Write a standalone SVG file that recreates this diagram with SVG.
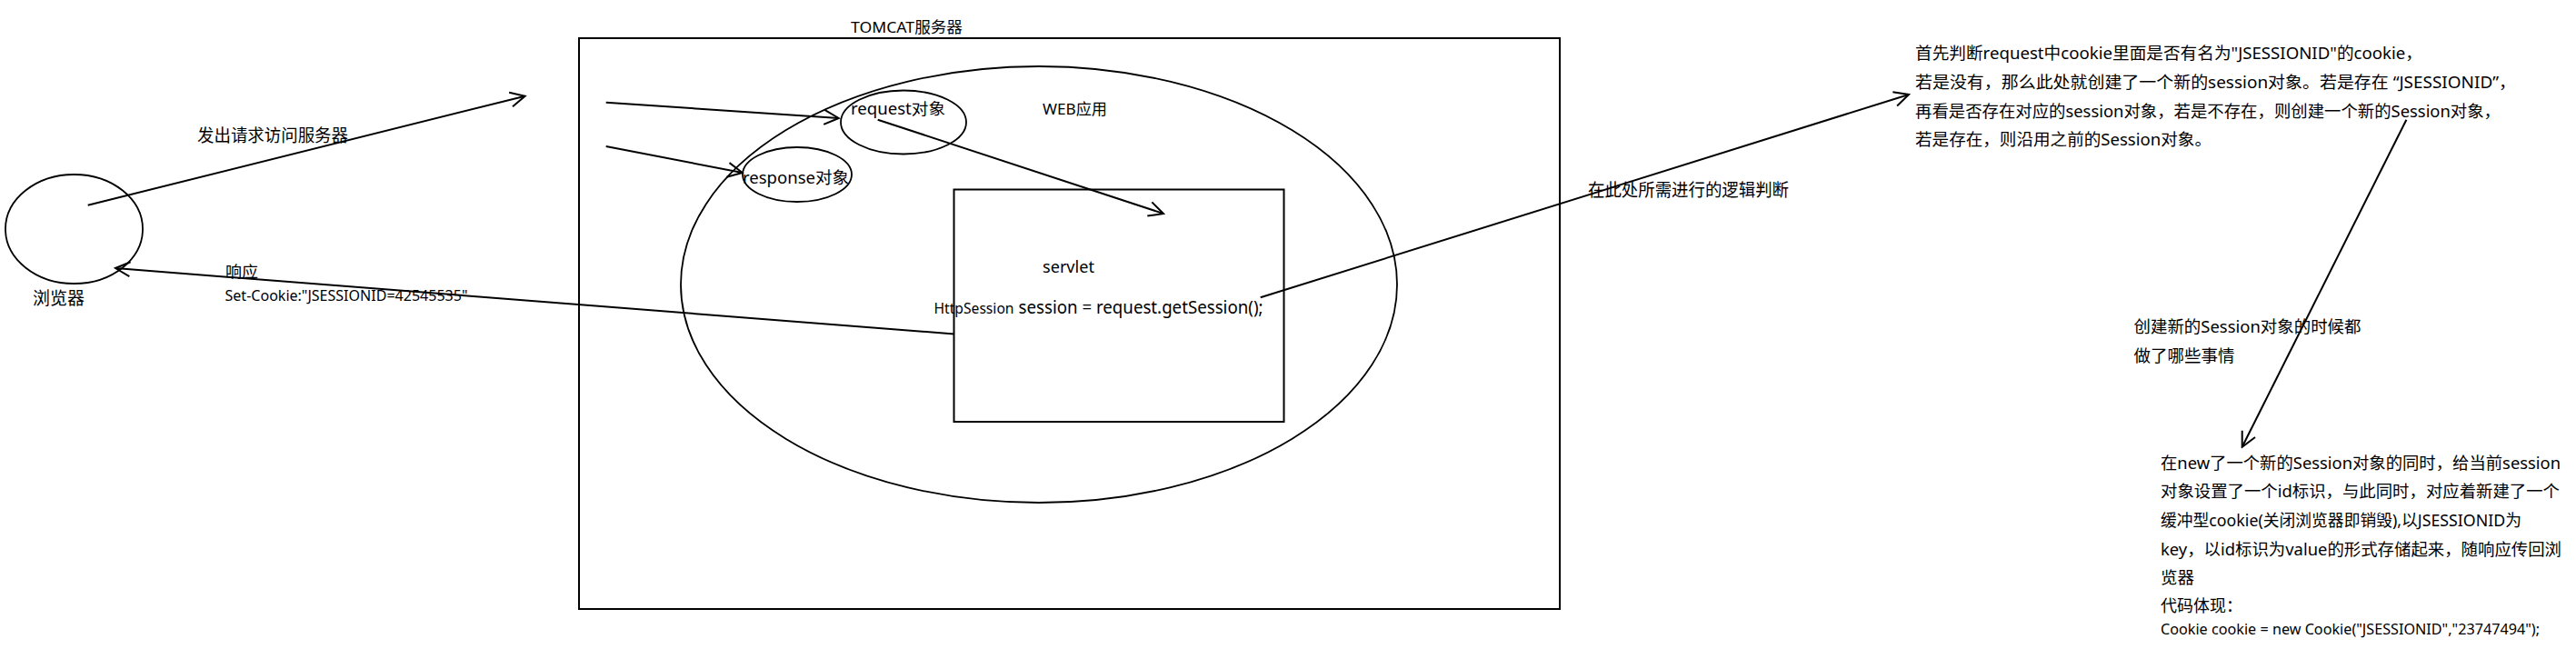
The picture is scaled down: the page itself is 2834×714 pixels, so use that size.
<svg xmlns="http://www.w3.org/2000/svg" width="2834" height="714" viewBox="0 0 2834 714">
<style>
  .shape { fill: none; stroke: #000; stroke-width: 2; }
  .thin { fill: none; stroke: #000; stroke-width: 1.8; }
  .conn { fill: none; stroke: #000; stroke-width: 2; marker-end: url(#arrow); }
  .line { fill: none; stroke: #000; stroke-width: 2; }
  text { font-family: "Noto Sans", "Noto Sans CJK SC", sans-serif; fill: #000; }
</style>
<defs>
  <marker id="arrow" viewBox="0 0 20 20" refX="18" refY="10" markerWidth="20" markerHeight="20" markerUnits="userSpaceOnUse" orient="auto">
    <path d="M2,2 L18,10 L2,18" fill="none" stroke="#000" stroke-width="2"/>
  </marker>
</defs>
<rect width="2834" height="714" fill="#fff"/>

<g id="tomcat">
  <rect class="shape" x="637" y="42" width="1079" height="628"/>
  <text x="936" y="36" font-size="17" textLength="123" lengthAdjust="spacingAndGlyphs">TOMCAT服务器</text>
</g>

<g id="webapp">
  <ellipse class="thin" cx="1143" cy="313" rx="394" ry="240"/>
  <text x="1147" y="126" font-size="17" textLength="71" lengthAdjust="spacingAndGlyphs">WEB应用</text>
</g>

<g id="request">
  <ellipse class="thin" cx="994" cy="134.5" rx="69" ry="35"/>
  <text x="936" y="126" font-size="17.5" textLength="104" lengthAdjust="spacingAndGlyphs">request对象</text>
</g>

<g id="response">
  <ellipse class="thin" cx="877" cy="192" rx="60" ry="30"/>
  <text x="817" y="202" font-size="18" textLength="117" lengthAdjust="spacingAndGlyphs">response对象</text>
</g>

<g id="servlet">
  <rect class="shape" x="1049.5" y="208.5" width="363" height="255.5"/>
  <text x="1147" y="300" font-size="18" textLength="57" lengthAdjust="spacingAndGlyphs">servlet</text>
  <text x="1027.5" y="345" font-size="15.5" textLength="88" lengthAdjust="spacingAndGlyphs">HttpSession</text>
  <text x="1120.5" y="345" font-size="19.5" textLength="269" lengthAdjust="spacingAndGlyphs">session = request.getSession();</text>
</g>

<g id="browser">
  <ellipse class="thin" cx="81.5" cy="252" rx="75.5" ry="60"/>
  <text x="36" y="335" font-size="19" textLength="57" lengthAdjust="spacingAndGlyphs">浏览器</text>
</g>

<g id="connectors">
  <line class="conn" x1="96.7" y1="225.7" x2="577.6" y2="105.7"/>
  <line class="conn" x1="1050" y1="367.5" x2="127" y2="295"/>
  <line class="conn" x1="666.7" y1="112.7" x2="922.7" y2="130"/>
  <line class="conn" x1="666.7" y1="161" x2="816.7" y2="190"/>
  <line class="conn" x1="965.7" y1="131.7" x2="1280" y2="235"/>
  <line class="conn" x1="1386.7" y1="327.3" x2="2100" y2="104"/>
  <line class="conn" x1="2647.4" y1="131.7" x2="2466.7" y2="491.7"/>
</g>

<g id="label-request">
  <text x="217" y="156" font-size="19" textLength="166" lengthAdjust="spacingAndGlyphs">发出请求访问服务器</text>
</g>

<g id="label-response">
  <text x="248" y="305" font-size="17" textLength="36" lengthAdjust="spacingAndGlyphs">响应</text>
  <text x="247.5" y="330.5" font-size="16.5" textLength="267" lengthAdjust="spacingAndGlyphs">Set-Cookie:"JSESSIONID=42545535"</text>
</g>

<g id="label-logic">
  <text x="1747" y="216" font-size="19.5" textLength="221" lengthAdjust="spacingAndGlyphs">在此处所需进行的逻辑判断</text>
</g>

<g id="note-judge">
  <text x="2107" y="65" font-size="18" textLength="558" lengthAdjust="spacingAndGlyphs">首先判断request中cookie里面是否有名为"JSESSIONID"的cookie，</text>
  <text x="2107" y="97" font-size="18" textLength="661" lengthAdjust="spacingAndGlyphs">若是没有，那么此处就创建了一个新的session对象。若是存在 “JSESSIONID”，</text>
  <text x="2107" y="128.5" font-size="18" textLength="644" lengthAdjust="spacingAndGlyphs">再看是否存在对应的session对象，若是不存在，则创建一个新的Session对象，</text>
  <text x="2107" y="160" font-size="18" textLength="326" lengthAdjust="spacingAndGlyphs">若是存在，则沿用之前的Session对象。</text>
</g>

<g id="note-question">
  <text x="2347.5" y="366" font-size="18.5" textLength="250" lengthAdjust="spacingAndGlyphs">创建新的Session对象的时候都</text>
  <text x="2347.5" y="398" font-size="18.5" textLength="111" lengthAdjust="spacingAndGlyphs">做了哪些事情</text>
</g>

<g id="note-create">
  <text x="2377" y="515.5" font-size="18" textLength="440" lengthAdjust="spacingAndGlyphs">在new了一个新的Session对象的同时，给当前session</text>
  <text x="2377" y="547" font-size="18" textLength="439" lengthAdjust="spacingAndGlyphs">对象设置了一个id标识，与此同时，对应着新建了一个</text>
  <text x="2377" y="578.5" font-size="18" textLength="397" lengthAdjust="spacingAndGlyphs">缓冲型cookie(关闭浏览器即销毁),以JSESSIONID为</text>
  <text x="2377" y="610.5" font-size="18" textLength="441" lengthAdjust="spacingAndGlyphs">key，以id标识为value的形式存储起来，随响应传回浏</text>
  <text x="2377" y="641.5" font-size="18" textLength="37" lengthAdjust="spacingAndGlyphs">览器</text>
  <text x="2377" y="672.5" font-size="18">代码体现：</text>
  <text x="2377" y="698.3" font-size="16" textLength="417" lengthAdjust="spacingAndGlyphs">Cookie cookie = new Cookie("JSESSIONID","23747494");</text>
</g>
</svg>
